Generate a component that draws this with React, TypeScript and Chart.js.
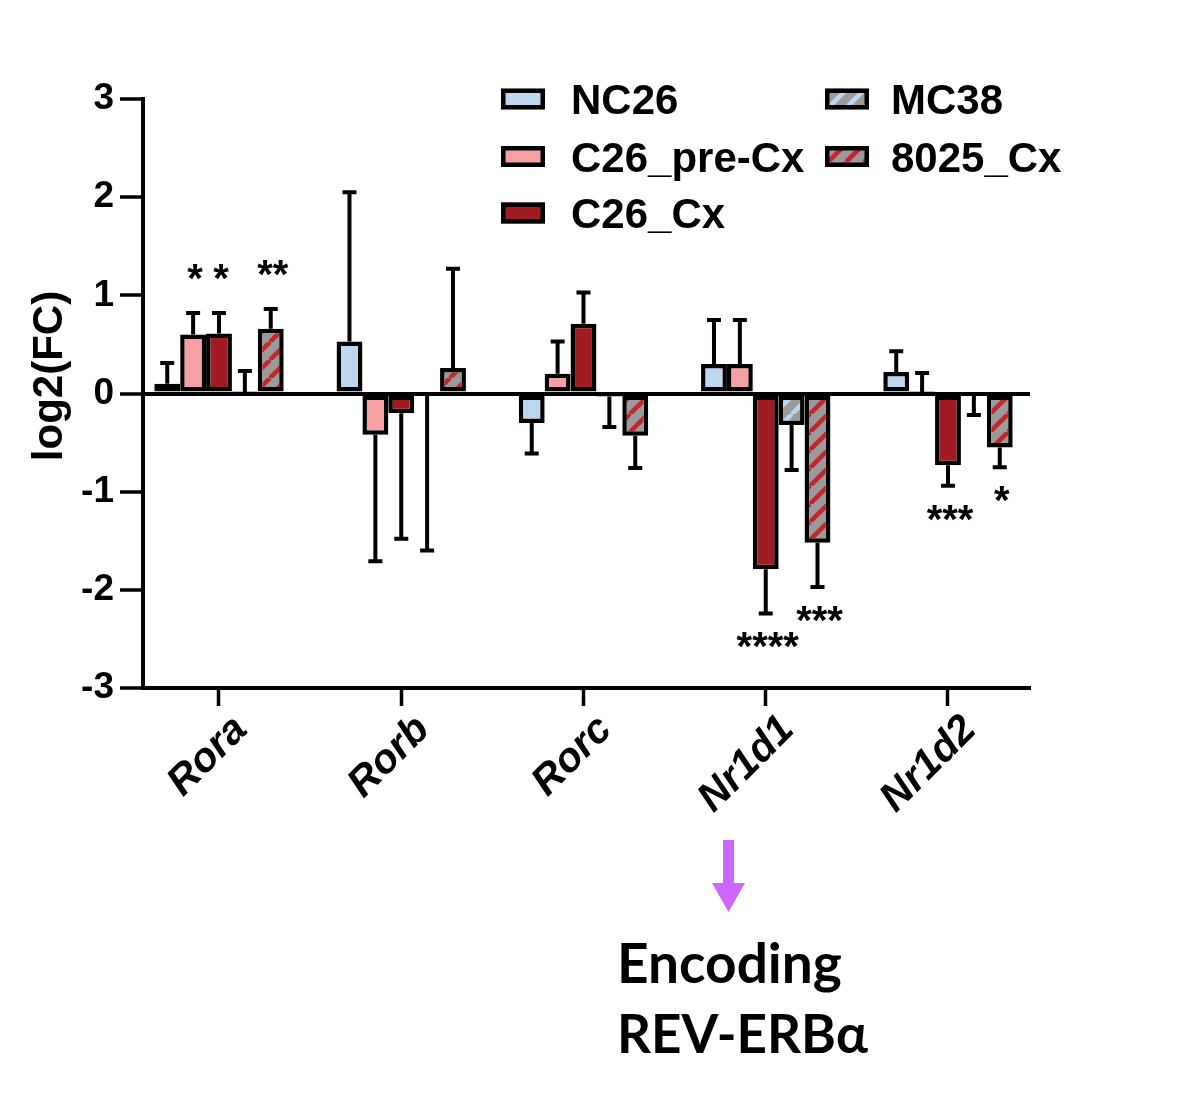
import React, { useEffect, useRef } from 'react';
import { Chart, registerables } from 'chart.js';

Chart.register(...registerables);

// ---------- data ----------
const genes = ['Rora', 'Rorb', 'Rorc', 'Nr1d1', 'Nr1d2'];
const seriesNames = ['NC26', 'C26_pre-Cx', 'C26_Cx', 'MC38', '8025_Cx'];

const nc26 = [0.1, 0.53, -0.3, 0.3, 0.22];
const nc26Err = [0.21, 1.52, 0.31, 0.45, 0.21];
const preCx = [0.6, -0.42, 0.2, 0.3, 0.01];
const preCxErr = [0.22, 1.29, 0.33, 0.45, 0.2];
const c26Cx = [0.61, -0.2, 0.71, -1.79, -0.73];
const c26CxErr = [0.21, 1.28, 0.32, 0.45, 0.21];
const mc38 = [0.01, -0.01, -0.03, -0.32, -0.01];
const mc38Err = [0.22, 1.59, 0.31, 0.46, 0.21];
const cx8025 = [0.66, 0.26, -0.43, -1.52, -0.55];
const cx8025Err = [0.2, 1.01, 0.33, 0.45, 0.2];

const nc26Stars = ['', '', '', '', ''];
const preCxStars = ['*', '', '', '', ''];
const c26CxStars = ['*', '', '', '****', '***'];
const mc38Stars = ['', '', '', '', ''];
const cx8025Stars = ['**', '', '', '***', '*'];

const yMin = -3;
const yMax = 3;
const yStep = 1;

const annotationLines = ['Encoding', 'REV-ERBα'];

const values = [nc26, preCx, c26Cx, mc38, cx8025];
const errors = [nc26Err, preCxErr, c26CxErr, mc38Err, cx8025Err];
const stars = [nc26Stars, preCxStars, c26CxStars, mc38Stars, cx8025Stars];

// ---------- styles ----------
const FONT = "'Liberation Sans', Arial, sans-serif";
const LW = 4;
const BAR_LW = 4.5;
const BLUE = '#bdd7ee';
const PINK = '#f7a0a4';
const DARKRED = '#a11b22';
const GRAY = '#9b9b9b';
const STRIPE_RED = '#c1272d';

function makeStripes(ctx: CanvasRenderingContext2D, bg: string, fg: string) {
  const s = 18;
  const tile = document.createElement('canvas');
  tile.width = s;
  tile.height = s;
  const t = tile.getContext('2d')!;
  t.fillStyle = bg;
  t.fillRect(0, 0, s, s);
  t.strokeStyle = fg;
  t.lineWidth = 4.5;
  t.beginPath();
  for (const k of [-1, 0, 1]) {
    t.moveTo(k * s, s);
    t.lineTo(k * s + s, 0);
  }
  t.stroke();
  return ctx.createPattern(tile, 'repeat')!;
}

export default function App() {
  const ref = useRef<HTMLCanvasElement | null>(null);

  useEffect(() => {
    const canvas = ref.current!;
    const ctx0 = canvas.getContext('2d')!;
    const fills: (string | CanvasPattern)[] = [
      BLUE,
      PINK,
      DARKRED,
      makeStripes(ctx0, GRAY, BLUE),
      makeStripes(ctx0, GRAY, STRIPE_RED),
    ];

    const errorBars = {
      id: 'errorBars',
      afterDatasetsDraw(chart: any) {
        const ctx = chart.ctx as CanvasRenderingContext2D;
        const y = chart.scales.y;
        ctx.save();
        ctx.strokeStyle = '#000';
        ctx.lineWidth = LW;
        ctx.lineCap = 'butt';
        chart.data.datasets.forEach((_: any, di: number) => {
          const meta = chart.getDatasetMeta(di);
          meta.data.forEach((bar: any, i: number) => {
            const v = values[di][i];
            const e = errors[di][i];
            const end = v >= 0 ? v + e : v - e;
            const y0 = y.getPixelForValue(v);
            const y1 = y.getPixelForValue(end);
            ctx.beginPath();
            ctx.moveTo(bar.x, y0);
            ctx.lineTo(bar.x, y1);
            ctx.moveTo(bar.x - 7, y1);
            ctx.lineTo(bar.x + 7, y1);
            ctx.stroke();
            const st = stars[di][i];
            if (st) {
              ctx.font = `bold 40px ${FONT}`;
              ctx.fillStyle = '#000';
              ctx.textAlign = 'center';
              ctx.textBaseline = 'alphabetic';
              const m = ctx.measureText(st);
              const inkMid = (m.actualBoundingBoxAscent - m.actualBoundingBoxDescent) / 2;
              const cy = v >= 0 ? y1 - 41 : y1 + 27;
              ctx.fillText(st, bar.x + 2, cy + inkMid);
            }
          });
        });
        ctx.restore();
      },
    };

    const decorations = {
      id: 'decorations',
      afterDraw(chart: any) {
        const ctx = chart.ctx as CanvasRenderingContext2D;
        ctx.save();
        // y axis title
        ctx.fillStyle = '#000';
        ctx.font = `bold 42px ${FONT}`;
        ctx.textAlign = 'center';
        ctx.textBaseline = 'middle';
        ctx.translate(50, 376);
        ctx.rotate(-Math.PI / 2);
        ctx.fillText('log2(FC)', 0, 0);
        ctx.setTransform(1, 0, 0, 1, 0, 0);

        // legend (two columns)
        const rows = [99, 156.5, 213];
        const cols = [
          { box: 501, text: 571 },
          { box: 825, text: 891 },
        ];
        seriesNames.forEach((name, i) => {
          const c = cols[i < 3 ? 0 : 1];
          const r = rows[i < 3 ? i : i - 3];
          const bw = 44;
          const bh = 21;
          ctx.fillStyle = fills[i] as any;
          ctx.fillRect(c.box, r - bh / 2, bw, bh);
          ctx.strokeStyle = '#000';
          ctx.lineWidth = BAR_LW;
          ctx.strokeRect(c.box + BAR_LW / 2, r - bh / 2 + BAR_LW / 2, bw - BAR_LW, bh - BAR_LW);
          ctx.fillStyle = '#000';
          ctx.font = `bold 42px ${FONT}`;
          ctx.textAlign = 'left';
          ctx.textBaseline = 'alphabetic';
          ctx.fillText(name, c.text, r + 15);
        });

        // annotation arrow + text
        ctx.fillStyle = '#cc66ff';
        ctx.fillRect(723, 840, 11, 45);
        ctx.beginPath();
        ctx.moveTo(712, 883);
        ctx.lineTo(745, 883);
        ctx.lineTo(728.5, 912);
        ctx.closePath();
        ctx.fill();

        ctx.fillStyle = '#000';
        ctx.font = `bold 55px Lato, 'Open Sans', sans-serif`;
        ctx.textAlign = 'left';
        ctx.textBaseline = 'alphabetic';
        ctx.fillText(annotationLines[0], 617, 983);
        ctx.font = `bold 53px Lato, 'Open Sans', sans-serif`;
        ctx.fillText(annotationLines[1], 617, 1053);
        ctx.restore();
      },
    };

    const chart = new Chart(canvas, {
      type: 'bar',
      data: {
        datasets: seriesNames.map((name, di) => ({
          label: name,
          data: values[di].map((v, i) => ({ x: i, y: v })),
          backgroundColor: fills[di] as any,
          borderColor: '#000',
          borderWidth: BAR_LW,
          borderSkipped: false,
          categoryPercentage: 0.71,
          barPercentage: 1,
        })),
      },
      options: {
        responsive: false,
        animation: false,
        devicePixelRatio: 1,
        layout: { padding: { top: 99, right: 170, left: 0, bottom: 0 } },
        plugins: {
          legend: { display: false },
          tooltip: { enabled: false },
        },
        scales: {
          x: {
            type: 'linear',
            min: -0.417,
            max: 4.45,
            offset: false,
            afterBuildTicks: (s: any) => {
              s.ticks = genes.map((_, i) => ({ value: i }));
            },
            afterFit: (s: any) => {
              s.height = 425;
            },
            grid: {
              offset: false,
              drawOnChartArea: false,
              drawTicks: true,
              tickLength: 18,
              tickColor: '#000',
              tickWidth: 3.5,
            },
            border: { display: true, color: '#000', width: LW },
            ticks: {
              autoSkip: false,
              minRotation: 45,
              maxRotation: 45,
              padding: 0,
              labelOffset: 22,
              color: '#000',
              font: { family: FONT, size: 41, weight: 'bold', style: 'italic' },
              callback: (v: any) => genes[Math.round(v)] ?? '',
            },
          },
          y: {
            min: yMin,
            max: yMax,
            afterFit: (s: any) => {
              s.width = 143;
            },
            grid: {
              drawOnChartArea: true,
              color: (c: any) => (c.tick && c.tick.value === 0 ? '#000' : 'rgba(0,0,0,0)'),
              lineWidth: LW,
              tickColor: '#000',
              tickLength: 23,
              tickWidth: 3.5,
            },
            border: { display: true, color: '#000', width: LW },
            ticks: {
              stepSize: yStep,
              padding: 6,
              color: '#000',
              font: { family: FONT, size: 37, weight: 'bold' },
            },
          },
        },
      },
      plugins: [errorBars, decorations],
    });

    return () => chart.destroy();
  }, []);

  return (
    <div style={{ position: 'absolute', left: 0, top: 0, width: 1200, height: 1113, background: '#fff' }}>
      <canvas ref={ref} width={1200} height={1113} style={{ width: 1200, height: 1113, display: 'block' }} />
    </div>
  );
}
